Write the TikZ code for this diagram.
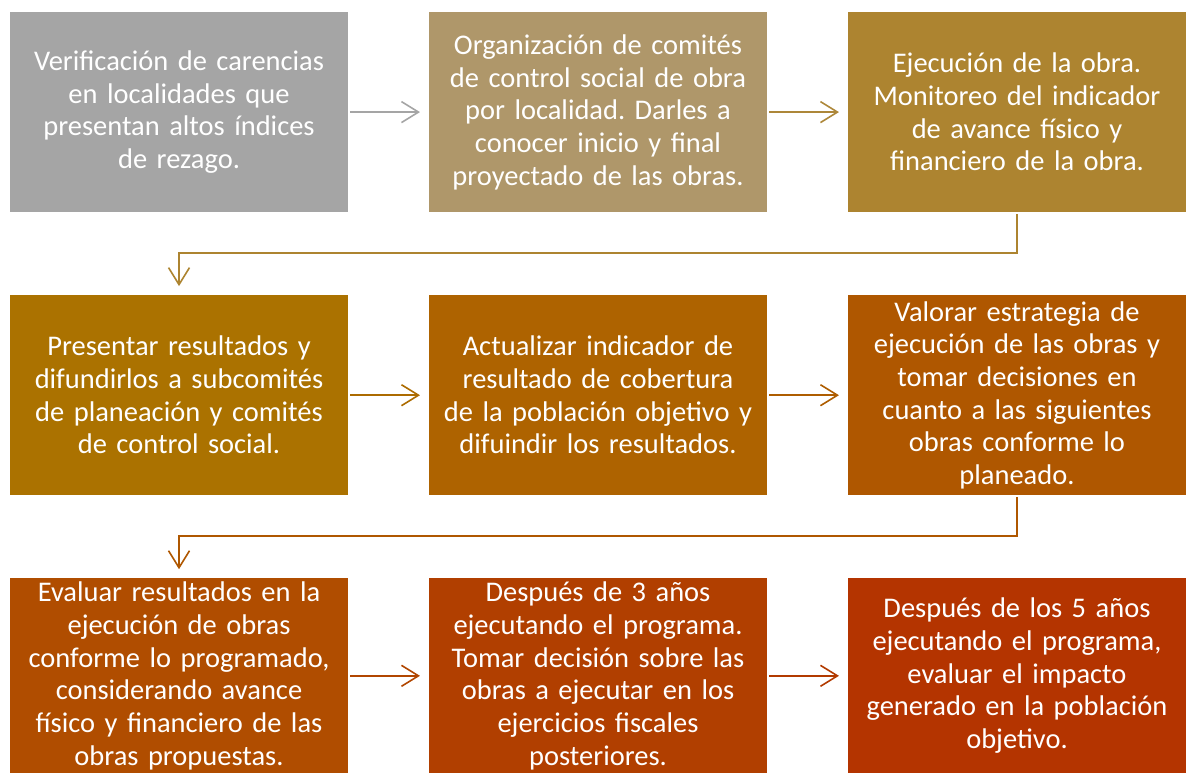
\documentclass[tikz,border=0pt]{standalone}
\usepackage{fontspec}
\setmainfont{Carlito}
\usetikzlibrary{positioning,arrows.meta}
\definecolor{paso1}{HTML}{A5A5A5}
\definecolor{paso2}{HTML}{AF976A}
\definecolor{paso3}{HTML}{AD8430}
\definecolor{paso4}{HTML}{AB7200}
\definecolor{paso5}{HTML}{AE6300}
\definecolor{paso6}{HTML}{AF5700}
\definecolor{paso7}{HTML}{B04D00}
\definecolor{paso8}{HTML}{B13F00}
\definecolor{paso9}{HTML}{B43400}
\frenchspacing
\begin{document}
\begin{tikzpicture}[
	caja/.style={fill=#1,text=white,minimum width=338pt,minimum height=200pt,text width=334pt,align=center,inner sep=0pt,font=\fontsize{28.5}{32.7}\selectfont},
	flecha/.style={draw=#1,line width=1.6pt,-{Straight Barb[length=17pt,width=21pt]},shorten <=2pt,shorten >=9pt},
	node distance=83pt and 81pt]
	\node[caja=paso1] (b1) at (0,0) {Verificación de carencias\\en localidades que\\presentan altos índices\\de rezago.};
	\node[caja=paso2,right=of b1] (b2) {Organización de comités\\de control social de obra\\por localidad. Darles a\\conocer inicio y final\\proyectado de las obras.};
	\node[caja=paso3,right=of b2] (b3) {Ejecución de la obra.\\Monitoreo del indicador\\de avance físico y\\financiero de la obra.};
	\node[caja=paso4,below=of b1] (b4) {Presentar resultados y\\difundirlos a subcomités\\de planeación y comités\\de control social.};
	\node[caja=paso5,right=of b4] (b5) {Actualizar indicador de\\resultado de cobertura\\de la población objetivo y\\difuindir los resultados.};
	\node[caja=paso6,right=of b5] (b6) {Valorar estrategia de\\ejecución de las obras y\\tomar decisiones en\\cuanto a las siguientes\\obras conforme lo\\planeado.};
	\node[caja=paso7,below=of b4,minimum height=195pt] (b7) {Evaluar resultados en la\\ejecución de obras\\conforme lo programado,\\considerando avance\\físico y financiero de las\\obras propuestas.};
	\node[caja=paso8,right=of b7,minimum height=195pt] (b8) {Después de 3 años\\ejecutando el programa.\\Tomar decisión sobre las\\obras a ejecutar en los\\ejercicios fiscales\\posteriores.};
	\node[caja=paso9,right=of b8,minimum height=195pt] (b9) {Después de los 5 años\\ejecutando el programa,\\evaluar el impacto\\generado en la población\\objetivo.};
	\useasboundingbox ([xshift=-10pt,yshift=12pt]b1.north west) rectangle (b9.south east);
	\draw[flecha=paso1] (b1) -- (b2);
	\draw[flecha=paso3!85!paso2] (b2) -- (b3);
	\draw[flecha=paso3] (b3.south) -- ++(0,-41pt) -| (b4.north);
	\draw[flecha=paso4!50!paso5] (b4) -- (b5);
	\draw[flecha=paso5!50!paso6] (b5) -- (b6);
	\draw[flecha=paso6] (b6.south) -- ++(0,-41pt) -| (b7.north);
	\draw[flecha=paso7!50!paso8] (b7) -- (b8);
	\draw[flecha=paso8!50!paso9] (b8) -- (b9);
\end{tikzpicture}
\end{document}
